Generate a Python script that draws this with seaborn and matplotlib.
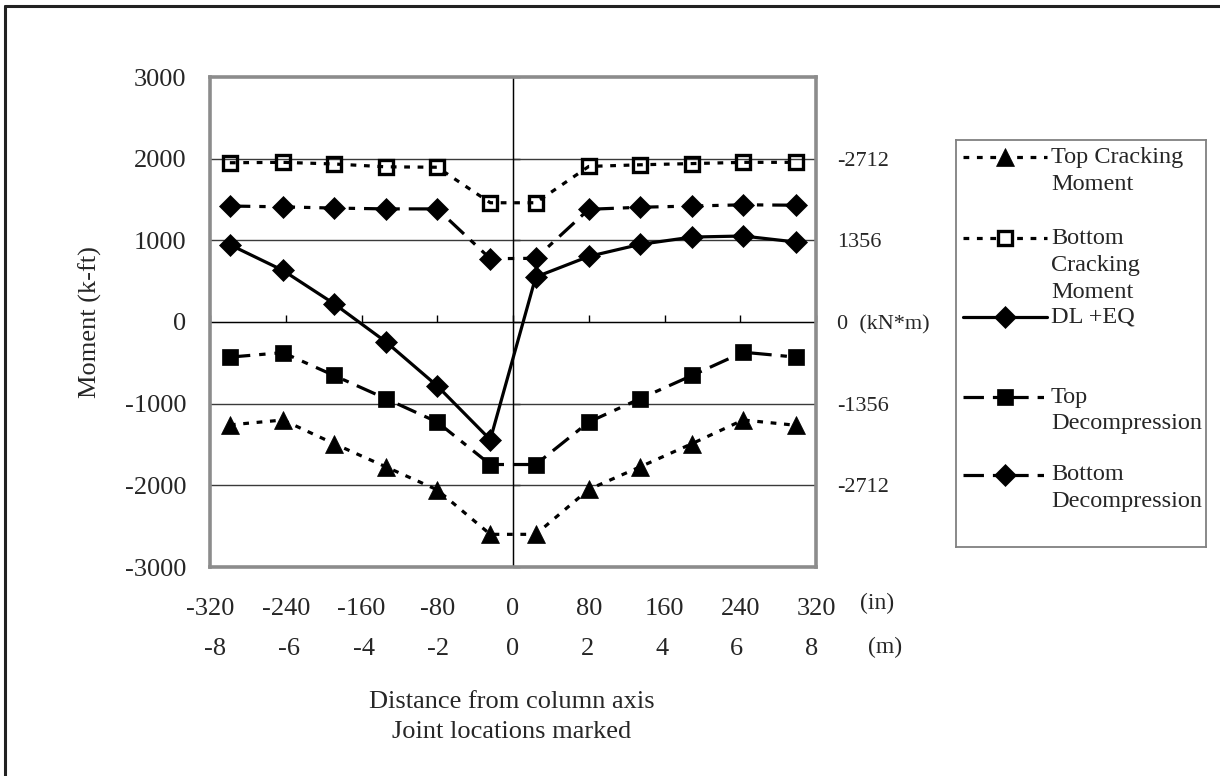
import matplotlib
matplotlib.use("Agg")
import matplotlib.pyplot as plt
from matplotlib.lines import Line2D
import seaborn as sns
import numpy as np

# ---------------- data ----------------
x_in = [-299, -243, -189, -134, -80, -24, 24, 80, 134, 189, 243, 299]
top_cracking = [-1260, -1200, -1490, -1775, -2055, -2600, -2600, -2050, -1775, -1490, -1200, -1265]
bottom_cracking = [1950, 1955, 1935, 1900, 1895, 1460, 1460, 1905, 1925, 1940, 1955, 1955]
dl_eq = [946, 632, 224, -245, -783, -1441, 551, 803, 950, 1040, 1053, 979]
top_decompression = [-430, -375, -655, -940, -1225, -1745, -1745, -1225, -940, -655, -370, -430]
bottom_decompression = [1420, 1410, 1395, 1385, 1385, 775, 780, 1380, 1405, 1420, 1435, 1430]

series_names = ["Top Cracking\nMoment", "Bottom\nCracking\nMoment", "DL +EQ",
                "Top\nDecompression", "Bottom\nDecompression"]
series_values = [top_cracking, bottom_cracking, dl_eq, top_decompression, bottom_decompression]

x_ticks_in = [-320, -240, -160, -80, 0, 80, 160, 240, 320]
x_ticks_m = [-8, -6, -4, -2, 0, 2, 4, 6, 8]
y_ticks = [-3000, -2000, -1000, 0, 1000, 2000, 3000]
right_ticks = [2000, 1000, 0, -1000, -2000]
right_labels = ["-2712", "1356", "0  (kN*m)", "-1356", "-2712"]

# ---------------- styles ----------------
dotted = (0, (1.8, 2.4))
dashdot = (0, (6.4, 2.8, 2.0, 2.8))
styles = [
    dict(linestyle=dotted, marker="^", markersize=13, mfc="black", mec="black", mew=0.5),
    dict(linestyle=dotted, marker="s", markersize=10, mfc="none", mec="black", mew=2.4),
    dict(linestyle="-", marker="D", markersize=11, mfc="black", mec="black", mew=0.5),
    dict(linestyle=dashdot, marker="s", markersize=12, mfc="black", mec="black", mew=0.5),
    dict(linestyle=dashdot, marker="D", markersize=11, mfc="black", mec="black", mew=0.5),
]

sns.set_style("white")
plt.rcParams["font.family"] = ["Liberation Serif", "DejaVu Serif"]
plt.rcParams["axes.unicode_minus"] = False
FS = 19
FS_LEG = 17.5
FS_R = 16
LW = 2.3

W, H = 1220, 776
fig = plt.figure(figsize=(W / 100, H / 100), dpi=100)
fig.patch.set_facecolor("white")

# outer frame (left and top edges visible)
fig.add_artist(Line2D([5 / W, 5 / W], [-0.1, 1 - 6 / H], color="#222222", lw=2.2, transform=fig.transFigure))
fig.add_artist(Line2D([5 / W, 1.1], [1 - 6 / H, 1 - 6 / H], color="#222222", lw=2.2, transform=fig.transFigure))

L, R, T, B = 210, 816, 77, 567
ax = fig.add_axes([L / W, 1 - B / H, (R - L) / W, (B - T) / H])

for vals, st in zip(series_values, styles):
    sns.lineplot(x=x_in, y=vals, ax=ax, color="black", linewidth=LW, sort=False,
                 zorder=3, **st)

ax.set_xlim(-320, 320)
ax.set_ylim(-3000, 3000)

# grid lines
for yv in [-2000, -1000, 1000, 2000]:
    ax.axhline(yv, color="#3a3a3a", lw=1.0, zorder=1)
ax.axhline(0, color="black", lw=1.0, zorder=2)
ax.axvline(0, color="black", lw=1.0, zorder=2)

# left tick labels
ax.set_yticks(y_ticks)
ax.set_yticklabels([str(v) for v in y_ticks], fontsize=FS)
ax.tick_params(axis="y", length=0, pad=17)

# x tick labels (in)
ax.set_xticks(x_ticks_in)
ax.set_xticklabels([str(v) for v in x_ticks_in], fontsize=FS)
ax.tick_params(axis="x", length=0, pad=22)

# x tick labels (m)
sec = ax.secondary_xaxis("bottom", functions=(lambda x: x / 39.37, lambda m: m * 39.37))
sec.set_xticks(x_ticks_m)
sec.set_xticklabels([str(v) for v in x_ticks_m], fontsize=FS)
sec.tick_params(axis="x", length=0, pad=51)
sec.spines["bottom"].set_visible(False)

# tick marks along the zero axes
midx = ax.secondary_xaxis(0.5)
midx.set_xticks(x_ticks_in)
midx.set_xticklabels([])
midx.tick_params(axis="x", direction="out", length=5, width=1, color="black")
midx.spines["bottom"].set_visible(False)

midy = ax.secondary_yaxis(0.5)
midy.set_yticks(y_ticks)
midy.set_yticklabels([])
midy.tick_params(axis="y", direction="out", length=5, width=1, color="black")
midy.spines["left"].set_visible(False)

# right-side kN*m labels
rax = ax.secondary_yaxis("right")
rax.set_yticks(right_ticks)
rax.set_yticklabels(right_labels, fontsize=FS_R)
rax.tick_params(axis="y", length=0, pad=15)
rax.spines["right"].set_visible(False)

for sp in ax.spines.values():
    sp.set_color("#8c8c8c")
    sp.set_linewidth(2.6)
    sp.set_zorder(4)

ax.set_ylabel("Moment (k-ft)", fontsize=FS)
ax.yaxis.set_label_coords(-(L - 102) / (R - L), 0.5)

# unit markers for x rows
fig.text(877 / W, 1 - 603 / H, "(in)", fontsize=FS_R + 1, ha="center", va="center")
fig.text(885 / W, 1 - 647 / H, "(m)", fontsize=FS_R + 1, ha="center", va="center")

# axis title lines
fig.text(512 / W, 1 - 702 / H, "Distance from column axis", fontsize=FS, ha="center", va="center")
fig.text(512 / W, 1 - 732 / H, "Joint locations marked", fontsize=FS, ha="center", va="center")

# ---------------- legend ----------------
LX0, LY0, LX1, LY1 = 956, 140, 1206, 547
lax = fig.add_axes([LX0 / W, 1 - LY1 / H, (LX1 - LX0) / W, (LY1 - LY0) / H])
lax.set_xlim(0, LX1 - LX0)
lax.set_ylim(LY1 - LY0, 0)
lax.set_xticks([])
lax.set_yticks([])
for sp in lax.spines.values():
    sp.set_color("#808080")
    sp.set_linewidth(1.3)
entry_y = [17, 98, 177, 257, 335]
for name, st, yy in zip(series_names, styles, entry_y):
    lax.add_line(Line2D([7, 91], [yy, yy], color="black", linewidth=LW,
                        linestyle=st["linestyle"]))
    lax.add_line(Line2D([49], [yy], color="black", linestyle="none", marker=st["marker"],
                        markersize=st["markersize"], mfc=("white" if st["mfc"] == "none" else st["mfc"]),
                        mec=st["mec"], mew=st["mew"]))
    for i, line in enumerate(name.split("\n")):
        lax.text(95, yy + i * 27, line, fontsize=FS_LEG, ha="left", va="center")

fig.savefig("out.png", dpi=100, facecolor="white")
